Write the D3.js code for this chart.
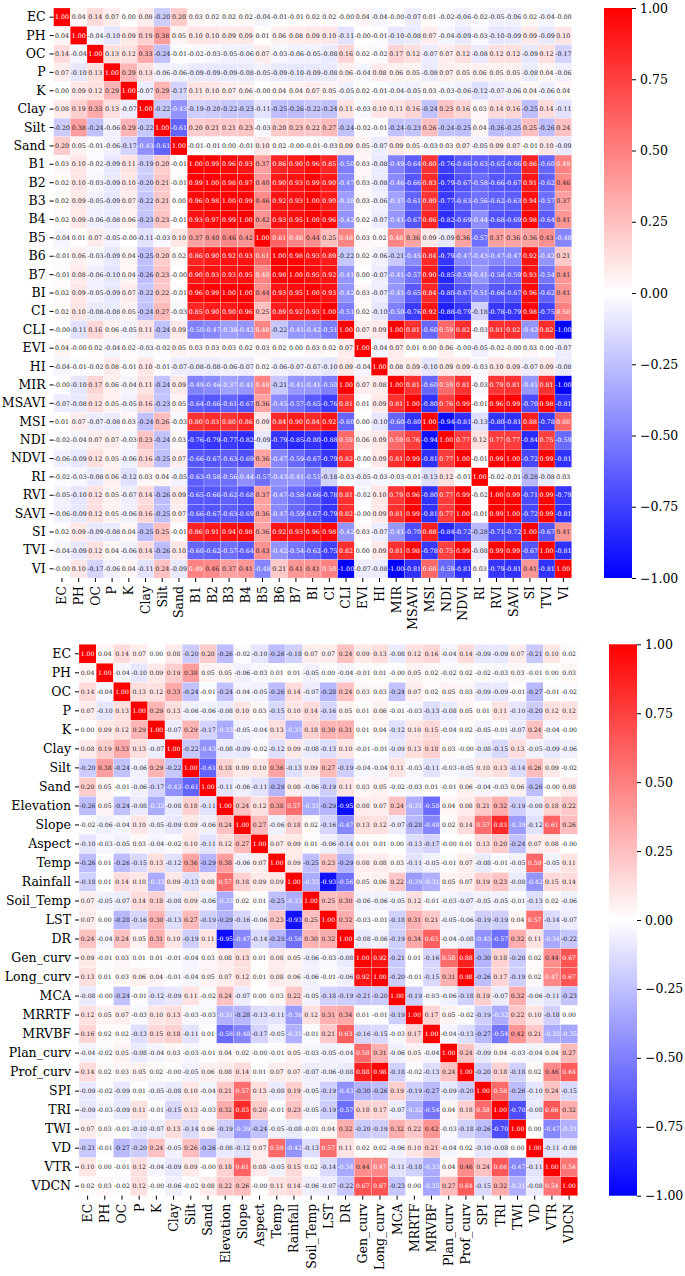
<!DOCTYPE html>
<html lang="en">
<head>
    <meta charset="UTF-8">
    <title>Correlation heatmaps</title>
    <style>
        body, html {
            margin: 0;
            padding: 0;
            background-color: #ffffff;
        }
        svg {
            display: block;
        }
    </style>
</head>
<body>
    <script src="https://d3js.org/d3.v7.min.js"></script>
    <script>
        // Labels and lower triangle of the first correlation matrix (soil + spectral indices)
        var topLabels = ["EC", "PH", "OC", "P", "K", "Clay", "Silt", "Sand", "B1", "B2", "B3", "B4", "B5", "B6", "B7",
            "BI", "CI", "CLI", "EVI", "HI", "MIR", "MSAVI", "MSI", "NDI", "NDVI", "RI", "RVI", "SAVI", "SI", "TVI", "VI"];

        var topLower = [
            [1.00],
            [0.04, 1.00],
            [0.14, -0.04, 1.00],
            [0.07, -0.10, 0.13, 1.00],
            [0.00, 0.09, 0.12, 0.29, 1.00],
            [0.08, 0.19, 0.33, 0.13, -0.07, 1.00],
            [-0.20, 0.38, -0.24, -0.06, 0.29, -0.22, 1.00],
            [0.20, 0.05, -0.01, -0.06, -0.17, -0.43, -0.61, 1.00],
            [0.03, 0.10, -0.02, -0.09, 0.11, -0.19, 0.20, -0.01, 1.00],
            [0.02, 0.10, -0.03, -0.09, 0.10, -0.20, 0.21, -0.01, 0.99, 1.00],
            [0.02, 0.09, -0.05, -0.09, 0.07, -0.22, 0.21, 0.00, 0.96, 0.98, 1.00],
            [0.02, 0.09, -0.06, -0.08, 0.06, -0.23, 0.23, -0.01, 0.93, 0.97, 0.99, 1.00],
            [-0.04, 0.01, 0.07, -0.05, -0.00, -0.11, -0.03, 0.10, 0.37, 0.40, 0.46, 0.42, 1.00],
            [-0.01, 0.06, -0.03, -0.09, 0.04, -0.25, 0.20, 0.02, 0.86, 0.90, 0.92, 0.93, 0.61, 1.00],
            [-0.01, 0.08, -0.06, -0.10, 0.04, -0.26, 0.23, -0.00, 0.90, 0.93, 0.93, 0.95, 0.48, 0.98, 1.00],
            [0.02, 0.09, -0.05, -0.09, 0.07, -0.22, 0.22, -0.01, 0.96, 0.99, 1.00, 1.00, 0.44, 0.93, 0.95, 1.00],
            [0.02, 0.10, -0.08, -0.08, 0.05, -0.24, 0.27, -0.03, 0.85, 0.90, 0.90, 0.96, 0.25, 0.89, 0.92, 0.93, 1.00],
            [-0.00, -0.11, 0.16, 0.06, -0.05, 0.11, -0.24, 0.09, -0.50, -0.47, -0.38, -0.42, 0.48, -0.22, -0.41, -0.42, -0.51, 1.00],
            [0.04, -0.00, 0.02, -0.04, 0.02, -0.03, -0.02, 0.05, 0.03, 0.03, 0.03, 0.02, 0.03, 0.02, 0.00, 0.03, 0.02, 0.07, 1.00],
            [-0.04, -0.01, -0.02, 0.08, -0.01, 0.10, -0.01, -0.07, -0.08, -0.08, -0.06, -0.07, 0.02, -0.06, -0.07, -0.07, -0.10, 0.09, -0.04, 1.00],
            [-0.00, -0.10, 0.17, 0.06, -0.04, 0.11, -0.24, 0.09, -0.49, -0.46, -0.37, -0.41, 0.48, -0.21, -0.41, -0.41, -0.50, 1.00, 0.07, 0.08, 1.00],
            [-0.07, -0.08, 0.12, 0.05, -0.05, 0.16, -0.23, 0.05, -0.64, -0.66, -0.61, -0.67, 0.36, -0.45, -0.57, -0.65, -0.76, 0.81, 0.01, 0.09, 0.81, 1.00],
            [0.01, 0.07, -0.07, -0.08, 0.03, -0.24, 0.26, -0.03, 0.80, 0.83, 0.80, 0.86, 0.09, 0.84, 0.90, 0.84, 0.92, -0.60, 0.00, -0.10, -0.60, -0.80, 1.00],
            [-0.02, -0.04, 0.07, 0.07, -0.03, 0.23, -0.24, 0.03, -0.76, -0.79, -0.77, -0.82, -0.09, -0.79, -0.85, -0.80, -0.88, 0.59, 0.06, 0.09, 0.59, 0.76, -0.94, 1.00],
            [-0.06, -0.09, 0.12, 0.05, -0.06, 0.16, -0.25, 0.07, -0.66, -0.67, -0.63, -0.69, 0.36, -0.47, -0.59, -0.67, -0.79, 0.82, -0.00, 0.09, 0.81, 0.99, -0.81, 0.77, 1.00],
            [-0.02, -0.03, -0.08, 0.06, -0.12, 0.03, 0.04, -0.05, -0.63, -0.58, -0.56, -0.44, -0.57, -0.43, -0.41, -0.51, -0.18, -0.03, -0.05, -0.03, -0.03, -0.01, -0.13, 0.12, -0.01, 1.00],
            [-0.05, -0.10, 0.12, 0.05, -0.07, 0.14, -0.26, 0.09, -0.65, -0.66, -0.62, -0.68, 0.37, -0.47, -0.58, -0.66, -0.78, 0.81, -0.02, 0.10, 0.79, 0.96, -0.80, 0.77, 0.99, -0.02, 1.00],
            [-0.06, -0.09, 0.12, 0.05, -0.06, 0.16, -0.25, 0.07, -0.66, -0.67, -0.63, -0.69, 0.36, -0.47, -0.59, -0.67, -0.79, 0.82, -0.00, 0.09, 0.81, 0.99, -0.81, 0.77, 1.00, -0.01, 0.99, 1.00],
            [0.02, 0.09, -0.09, -0.08, 0.04, -0.25, 0.25, -0.01, 0.86, 0.91, 0.94, 0.98, 0.36, 0.92, 0.93, 0.96, 0.98, -0.42, 0.03, -0.07, -0.41, -0.70, 0.88, -0.84, -0.72, -0.28, -0.71, -0.72, 1.00],
            [-0.04, -0.09, 0.12, 0.04, -0.06, 0.14, -0.26, 0.10, -0.60, -0.62, -0.57, -0.64, 0.43, -0.42, -0.54, -0.62, -0.75, 0.82, 0.00, 0.09, 0.81, 0.98, -0.78, 0.75, 0.99, -0.08, 0.99, 0.99, -0.67, 1.00],
            [-0.00, 0.10, -0.17, -0.06, 0.04, -0.11, 0.24, -0.09, 0.49, 0.46, 0.37, 0.41, -0.48, 0.21, 0.41, 0.41, 0.50, -1.00, -0.07, -0.08, -1.00, -0.81, 0.60, -0.59, -0.81, 0.03, -0.79, -0.81, 0.41, -0.81, 1.00]
        ];

        // Labels and lower triangle of the second matrix (soil + terrain / climate)
        var bottomLabels = ["EC", "PH", "OC", "P", "K", "Clay", "Silt", "Sand", "Elevation", "Slope", "Aspect", "Temp",
            "Rainfall", "Soil_Temp", "LST", "DR", "Gen_curv", "Long_curv", "MCA", "MRRTF", "MRVBF", "Plan_curv",
            "Prof_curv", "SPI", "TRI", "TWI", "VD", "VTR", "VDCN"];

        var bottomLower = [
            [1.00],
            [0.04, 1.00],
            [0.14, -0.04, 1.00],
            [0.07, -0.10, 0.13, 1.00],
            [0.00, 0.09, 0.12, 0.29, 1.00],
            [0.08, 0.19, 0.33, 0.13, -0.07, 1.00],
            [-0.20, 0.38, -0.24, -0.06, 0.29, -0.22, 1.00],
            [0.20, 0.05, -0.01, -0.06, -0.17, -0.43, -0.61, 1.00],
            [-0.26, 0.05, -0.24, -0.08, -0.33, -0.08, 0.18, -0.11, 1.00],
            [-0.02, -0.06, -0.04, 0.10, -0.05, -0.09, 0.09, -0.06, 0.24, 1.00],
            [-0.10, -0.03, -0.05, 0.03, -0.04, -0.02, 0.10, -0.11, 0.12, 0.27, 1.00],
            [-0.26, 0.01, -0.26, -0.15, 0.13, -0.12, 0.36, -0.29, 0.38, -0.06, 0.07, 1.00],
            [-0.18, 0.01, 0.14, 0.10, -0.33, 0.09, -0.13, 0.08, 0.57, 0.18, 0.09, 0.09, 1.00],
            [0.07, -0.05, -0.07, 0.14, 0.18, -0.08, 0.09, -0.06, -0.33, 0.02, 0.01, -0.25, -0.33, 1.00],
            [0.07, 0.00, -0.28, -0.16, 0.30, -0.13, 0.27, -0.19, -0.29, -0.16, -0.06, 0.23, -0.93, 0.25, 1.00],
            [0.24, -0.04, 0.24, 0.05, 0.31, 0.10, -0.19, 0.11, -0.95, -0.47, -0.14, -0.29, -0.56, 0.30, 0.32, 1.00],
            [0.09, -0.01, 0.03, 0.01, 0.01, -0.01, -0.04, 0.03, 0.08, 0.13, 0.01, 0.08, 0.05, -0.06, -0.03, -0.08, 1.00],
            [0.13, 0.01, 0.03, 0.06, 0.04, -0.01, -0.04, 0.05, 0.07, 0.12, 0.01, 0.08, 0.06, -0.06, -0.01, -0.06, 0.92, 1.00],
            [-0.08, -0.00, -0.24, -0.01, -0.12, -0.09, 0.11, -0.02, 0.24, -0.07, 0.00, 0.03, 0.22, -0.05, -0.18, -0.19, -0.21, -0.20, 1.00],
            [0.12, 0.05, 0.07, -0.03, 0.10, 0.13, -0.03, -0.03, -0.31, -0.28, -0.13, -0.11, -0.39, 0.12, 0.31, 0.34, 0.01, -0.01, -0.19, 1.00],
            [0.16, 0.02, 0.02, -0.13, 0.15, 0.18, -0.11, 0.01, -0.58, -0.48, -0.17, -0.05, -0.31, -0.01, 0.21, 0.63, -0.16, -0.15, -0.03, 0.17, 1.00],
            [-0.04, -0.02, 0.05, -0.08, -0.04, 0.03, -0.03, -0.01, 0.04, 0.02, -0.00, -0.01, 0.05, -0.03, -0.05, -0.04, 0.58, 0.31, -0.06, 0.05, -0.04, 1.00],
            [0.14, 0.02, 0.03, 0.05, 0.02, -0.00, -0.05, 0.06, 0.08, 0.14, 0.01, 0.07, 0.07, -0.07, -0.06, -0.08, 0.88, 0.98, -0.18, -0.02, -0.13, 0.24, 1.00],
            [-0.09, -0.02, -0.09, 0.01, -0.05, -0.08, 0.10, -0.04, 0.21, 0.57, 0.13, -0.08, 0.19, -0.05, -0.19, -0.43, -0.30, -0.26, 0.19, -0.19, -0.27, -0.09, -0.20, 1.00],
            [-0.09, -0.03, -0.09, 0.11, -0.01, -0.15, 0.13, -0.03, 0.32, 0.83, 0.20, -0.01, 0.23, -0.05, -0.19, -0.57, 0.18, 0.17, -0.07, -0.32, -0.54, 0.04, 0.18, 0.58, 1.00],
            [0.07, 0.03, -0.01, -0.10, -0.07, 0.13, -0.14, 0.06, -0.19, -0.39, -0.24, -0.05, -0.08, -0.01, 0.04, 0.32, -0.20, -0.19, 0.32, 0.22, 0.42, -0.03, -0.18, -0.26, -0.70, 1.00],
            [-0.21, -0.01, -0.27, -0.20, 0.24, -0.05, 0.26, -0.26, -0.08, -0.12, 0.07, 0.59, -0.42, -0.13, 0.57, 0.11, 0.02, 0.02, -0.06, 0.10, 0.21, -0.04, 0.02, -0.10, -0.08, 0.00, 1.00],
            [0.10, 0.00, -0.01, 0.12, -0.04, -0.09, 0.09, -0.00, 0.18, 0.61, 0.08, -0.05, 0.15, 0.02, -0.14, -0.34, 0.44, 0.47, -0.11, -0.18, -0.33, 0.04, 0.46, 0.24, 0.66, -0.47, -0.11, 1.00],
            [0.02, 0.03, -0.02, 0.12, -0.00, -0.06, -0.02, 0.08, 0.22, 0.26, -0.00, 0.11, 0.14, -0.06, -0.07, -0.22, 0.67, 0.67, -0.23, 0.00, -0.35, 0.27, 0.64, -0.15, 0.32, -0.31, -0.08, 0.54, 1.00]
        ];

        var colorbarTicks = [-1.00, -0.75, -0.50, -0.25, 0.00, 0.25, 0.50, 0.75, 1.00];

        var width = 685,
            height = 1276;

        var svg = d3.select("body").append("svg")
            .attr("width", width)
            .attr("height", height);

        // bwr colormap
        var color = d3.scaleLinear()
            .domain([-1, 0, 1])
            .range(["#0000ff", "#ffffff", "#ff0000"]);

        var serif = "'DejaVu Serif', serif";

        function fmt(v) {
            var neg = v < 0 || Object.is(v, -0);
            return (neg ? "-" : "") + Math.abs(v).toFixed(2);
        }

        // light text on saturated cells, dark on pale ones
        function textColor(v) {
            return (v >= 0.47 || v <= -0.31) ? "#ffffff" : "#262626";
        }

        function drawHeatmap(labels, lower, box, cellFont) {
            // build the full symmetric matrix from the lower triangle
            var cells = [];
            labels.forEach(function(rowName, i) {
                labels.forEach(function(colName, j) {
                    var v = j <= i ? lower[i][j] : lower[j][i];
                    cells.push({ row: rowName, col: colName, value: v });
                });
            });

            var x = d3.scaleBand().domain(labels).range([box.x0, box.x1]).padding(0);
            var y = d3.scaleBand().domain(labels).range([box.y0, box.y1]).padding(0);

            var g = svg.append("g");

            g.selectAll("rect.cell")
                .data(cells)
                .enter()
                .append("rect")
                .attr("class", "cell")
                .attr("x", function(d) { return x(d.col); })
                .attr("y", function(d) { return y(d.row); })
                .attr("width", x.bandwidth())
                .attr("height", y.bandwidth())
                .attr("fill", function(d) { return color(d.value); })
                .attr("stroke", "rgba(255,255,255,0.55)")
                .attr("stroke-width", 0.4);

            g.selectAll("text.val")
                .data(cells)
                .enter()
                .append("text")
                .attr("class", "val")
                .attr("x", function(d) { return x(d.col) + x.bandwidth() / 2; })
                .attr("y", function(d) { return y(d.row) + y.bandwidth() / 2; })
                .attr("dy", "0.35em")
                .attr("text-anchor", "middle")
                .style("font-family", serif)
                .style("font-size", cellFont + "px")
                .attr("fill", function(d) { return textColor(d.value); })
                .text(function(d) { return fmt(d.value); });

            // y axis
            var yAxis = svg.append("g")
                .attr("transform", "translate(" + box.x0 + ",0)")
                .call(d3.axisLeft(y).tickSize(4).tickPadding(4));
            yAxis.select(".domain").remove();
            yAxis.selectAll("line").attr("stroke", "#000").attr("stroke-width", 1);
            yAxis.selectAll("text")
                .style("font-family", serif)
                .style("font-size", "12.5px")
                .attr("fill", "#000");

            // x axis, labels rotated
            var xAxis = svg.append("g")
                .attr("transform", "translate(0," + box.y1 + ")")
                .call(d3.axisBottom(x).tickSize(4));
            xAxis.select(".domain").remove();
            xAxis.selectAll("line").attr("stroke", "#000").attr("stroke-width", 1);
            xAxis.selectAll("text")
                .attr("transform", "rotate(-90)")
                .attr("x", -8)
                .attr("y", 0)
                .attr("dy", "0.35em")
                .style("text-anchor", "end")
                .style("font-family", serif)
                .style("font-size", "12.5px")
                .attr("fill", "#000");
        }

        function drawColorbar(id, box) {
            var defs = svg.append("defs");
            var grad = defs.append("linearGradient")
                .attr("id", id)
                .attr("x1", "0").attr("y1", "1")
                .attr("x2", "0").attr("y2", "0");
            grad.append("stop").attr("offset", "0%").attr("stop-color", color(-1));
            grad.append("stop").attr("offset", "50%").attr("stop-color", color(0));
            grad.append("stop").attr("offset", "100%").attr("stop-color", color(1));

            svg.append("rect")
                .attr("x", box.x0)
                .attr("y", box.y0)
                .attr("width", box.x1 - box.x0)
                .attr("height", box.y1 - box.y0)
                .attr("fill", "url(#" + id + ")");

            var s = d3.scaleLinear().domain([-1, 1]).range([box.y1, box.y0]);
            var cAxis = svg.append("g")
                .attr("transform", "translate(" + box.x1 + ",0)")
                .call(d3.axisRight(s).tickValues(colorbarTicks).tickSize(4).tickPadding(4)
                    .tickFormat(d3.format(".2f")));
            cAxis.select(".domain").remove();
            cAxis.selectAll("line").attr("stroke", "#000").attr("stroke-width", 1);
            cAxis.selectAll("text")
                .style("font-family", serif)
                .style("font-size", "12.5px")
                .attr("fill", "#000");
        }

        drawHeatmap(topLabels, topLower, { x0: 53.6, x1: 571.7, y0: 8, y1: 578 }, 6.3);
        drawColorbar("cbTop", { x0: 604, x1: 632, y0: 8, y1: 578 });

        drawHeatmap(bottomLabels, bottomLower, { x0: 79, x1: 577.7, y0: 644.3, y1: 1195.7 }, 6.1);
        drawColorbar("cbBottom", { x0: 609, x1: 637, y0: 644.3, y1: 1195.7 });
    </script>
</body>
</html>
